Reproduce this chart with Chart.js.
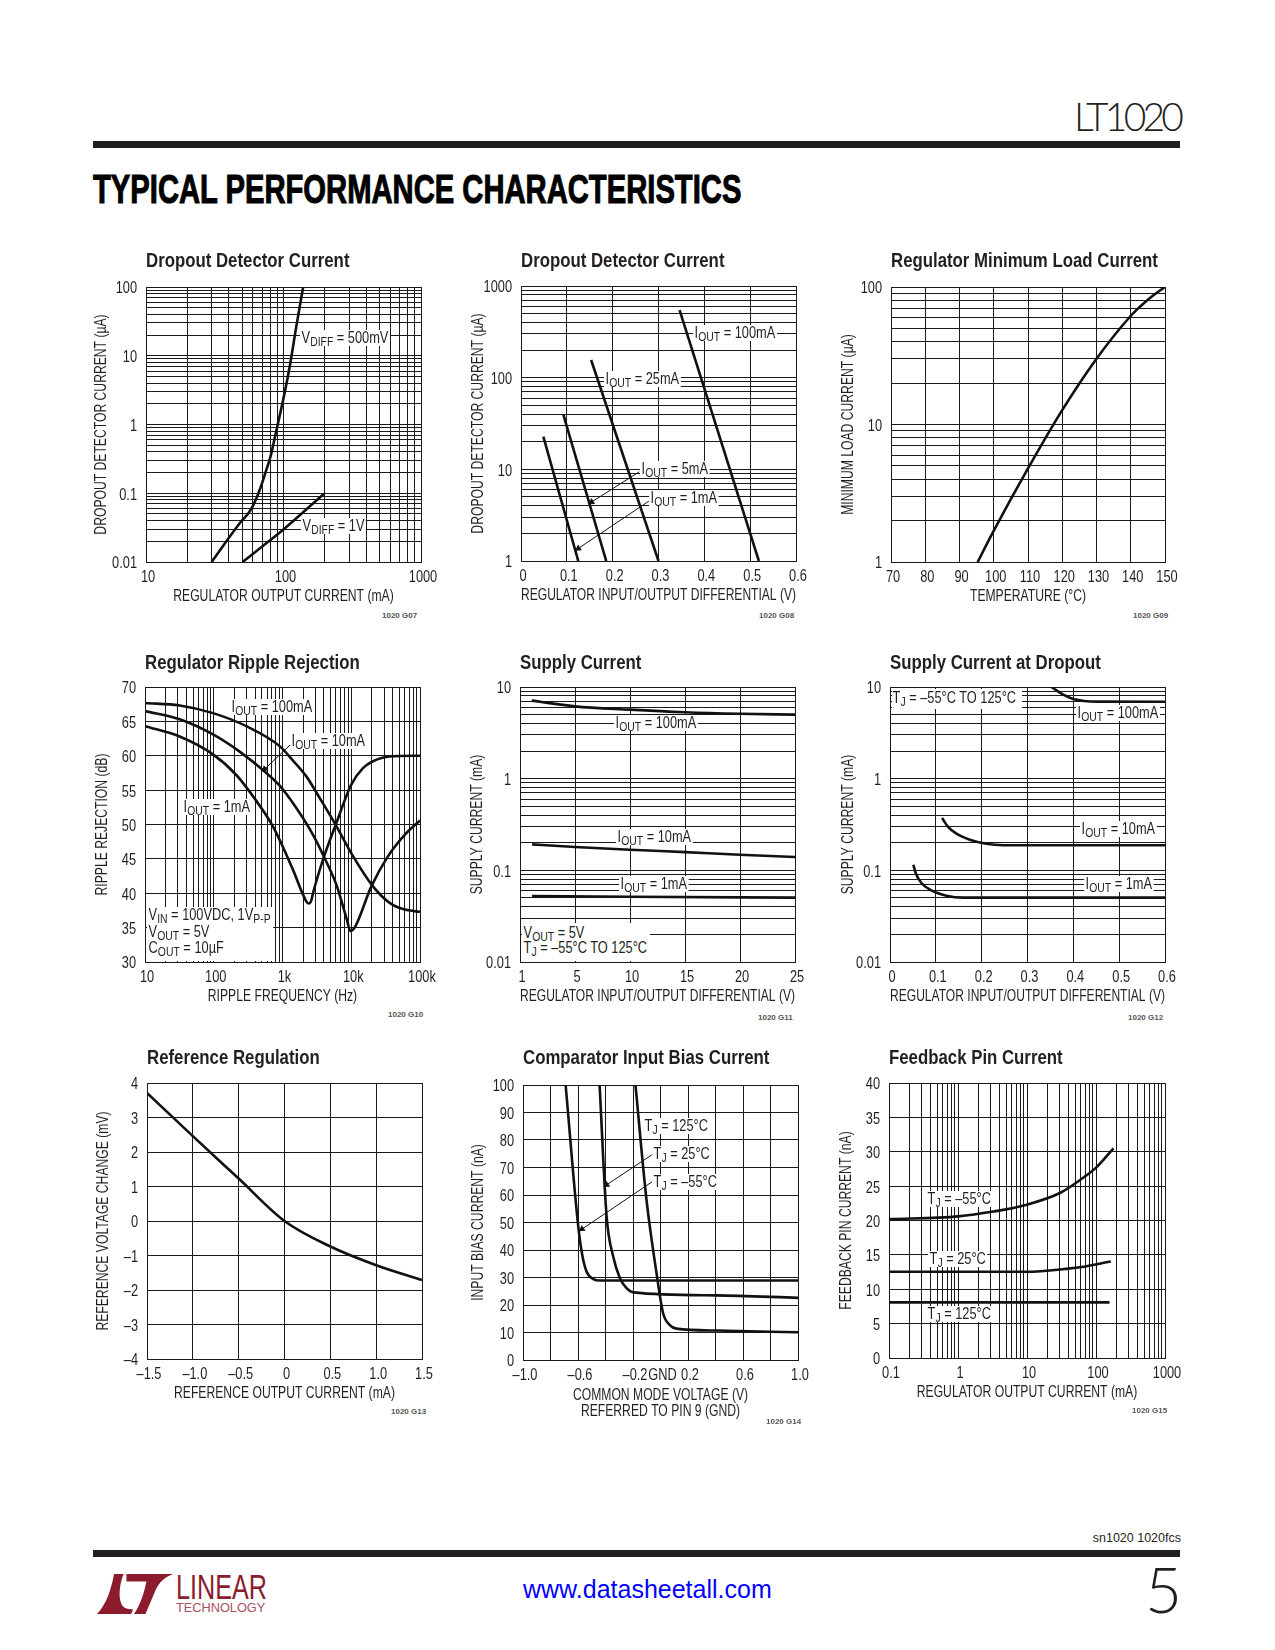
<!DOCTYPE html>
<html>
<head>
<meta charset="utf-8">
<title>LT1020 Typical Performance Characteristics</title>
<script src="https://cdn.jsdelivr.net/npm/chart.js@4/dist/chart.umd.min.js"></script>
<style>
body { margin:0; background:#fff; width:1275px; height:1650px; overflow:hidden; position:relative;
  font-family:"Liberation Sans",Arial,sans-serif; color:#231f20; }
canvas { position:absolute; }
.note { position:absolute; font-size:16px; line-height:16px; background:#fff; padding:0 2px; white-space:nowrap; transform:translateY(-50%) scaleX(.8); transform-origin:left center; }
.note.clear { background:none; }
.note sub { font-size:13px; line-height:0; vertical-align:-3px; }
.box { position:absolute; background:#fff; }
.code { position:absolute; font:bold 8px "Liberation Sans",Arial,sans-serif; color:#555; white-space:nowrap; transform:translateY(-50%); }
.rule { position:absolute; left:93px; width:1087px; height:7px; background:#231f20; }
.abs { position:absolute; white-space:nowrap; }
</style>
</head>
<body>
<div class="abs" style="left:1074px;top:93px;font:300 39px Lato,'Liberation Sans',sans-serif;letter-spacing:-3.8px;">LT1020</div>
<div class="rule" style="top:141px"></div>
<div class="abs" style="left:93px;top:167px;font:bold 40px 'Liberation Sans',sans-serif;color:#000;-webkit-text-stroke:1px #000;transform:scaleX(.73);transform-origin:left;">TYPICAL PERFORMANCE CHARACTERISTICS</div>

<div class="abs" style="right:94px;top:1531px;font:12.5px 'Liberation Sans',sans-serif;">sn1020 1020fcs</div>
<div class="rule" style="top:1550px"></div>
<svg class="abs" style="left:96px;top:1574px" width="78" height="40" viewBox="0 0 80 42">
  <path fill="#8c1c2d" d="M18 0 L28 0 C24 10 22 24 26 32 C28 36 32 37 38 37 L36 42 L0 42 C10 32 15 16 18 0 Z"/>
  <path fill="#8c1c2d" d="M31 0 L80 0 C72 3 66 8 62 16 L51 42 L39 42 C46 32 50 18 52 8 L31 8 Z"/>
</svg>
<div class="abs" style="left:176px;top:1567px;font:35px 'Liberation Sans',sans-serif;color:#8c1c2d;transform:scaleX(.72);transform-origin:left;">LINEAR</div>
<div class="abs" style="left:176px;top:1600px;font:13px 'Liberation Sans',sans-serif;color:#a8505f;transform:scaleX(.98);transform-origin:left;">TECHNOLOGY</div>
<div class="abs" style="left:523px;top:1575px;font:25px 'Liberation Sans',Arial,sans-serif;color:#0000ff;">www.datasheetall.com</div>
<div class="abs" style="right:93px;top:1550px;font:300 64px Lato,'Liberation Sans',sans-serif;">5</div>

<script>
// -- data --
// G07 dropout detector current vs output current
var g07X500 = [30, 48.2, 56.9, 63.7, 69.2, 74.4, 80.5, 89, 99.5, 111, 124, 139];
var g07Y500 = [0.01, 0.037, 0.0546, 0.0853, 0.133, 0.208, 0.344, 0.84, 2.3, 7.0, 26.8, 100];
var g07X1V = [50.4, 75.3, 99.5, 197];
var g07Y1V = [0.01, 0.0189, 0.0295, 0.0986];
var g07XTicks = [10, 100, 1000];
var g07XLabels = ['10', '100', '1000'];
var g07YTicks = [0.01, 0.1, 1, 10, 100];
var g07YLabels = ['0.01', '0.1', '1', '10', '100'];

// G08 dropout detector current vs differential
var g08X1 = [0.0488, 0.125];
var g08Y1 = [22.7, 1];
var g08X5 = [0.0925, 0.186];
var g08Y5 = [39.2, 1];
var g08X25 = [0.153, 0.300];
var g08Y25 = [156, 1];
var g08X100 = [0.346, 0.519];
var g08Y100 = [547, 1];
var g08Arrow5X = [0.258, 0.154];
var g08Arrow5Y = [9.4, 4.4];
var g08Arrow1X = [0.279, 0.125];
var g08Arrow1Y = [4.5, 1.37];
var g08XTicks = [0, 0.1, 0.2, 0.3, 0.4, 0.5, 0.6];
var g08XLabels = ['0', '0.1', '0.2', '0.3', '0.4', '0.5', '0.6'];
var g08YTicks = [1, 10, 100, 1000];
var g08YLabels = ['1', '10', '100', '1000'];

// G09 minimum load current
var g09X = [95.3, 99.9, 109.8, 119.8, 129.8, 139.7, 142.6, 145, 147.5, 150];
var g09Y = [1, 1.67, 4.69, 12.5, 29.6, 60.5, 71.5, 80.9, 90.5, 100];
var g09XTicks = [70, 80, 90, 100, 110, 120, 130, 140, 150];
var g09XLabels = ['70', '80', '90', '100', '110', '120', '130', '140', '150'];
var g09YTicks = [1, 10, 100];
var g09YLabels = ['1', '10', '100'];

// G10 ripple rejection
var g10X100 = [10, 31.9, 97.5, 298, 910, 1422, 2223, 3475, 5741, 10600, 20700, 36200, 56600, 100000];
var g10Y100 = [67.67, 67.3, 66.2, 64.3, 61.4, 59.3, 57, 53.85, 50.2, 45.4, 41, 38.6, 37.7, 37.3];
var g10X10 = [10, 31.9, 97.5, 238, 551, 910, 1589, 2780, 4102, 6067, 7590, 8770, 9700, 11200, 19600, 34300, 59900, 100000];
var g10Y10 = [66.5, 65.3, 63.1, 60.6, 57.7, 55.65, 52.4, 48.5, 45.1, 41.25, 38.1, 35.9, 34.5, 35, 41, 45.4, 48.5, 50.6];
var g10X1 = [10, 31.9, 97.5, 213, 372, 728, 1422, 1987, 2223, 2427, 2624, 2780, 3882, 6067, 10000, 14800, 20700, 36200, 100000];
var g10Y1 = [64.3, 62.8, 60.2, 57.2, 54.1, 49.7, 43.4, 39.8, 38.8, 38.5, 38.97, 40.04, 44.9, 50.2, 55.8, 58.2, 59.2, 59.9, 60];
var g10ArrowX = [1300, 551];
var g10ArrowY = [61.6, 58.07];
var g10XTicks = [10, 100, 1000, 10000, 100000];
var g10XLabels = ['10', '100', '1k', '10k', '100k'];
var g10YTicks = [30, 35, 40, 45, 50, 55, 60, 65, 70];
var g10YLabels = ['30', '35', '40', '45', '50', '55', '60', '65', '70'];

// G11 supply current
var g11X100 = [1.06, 4.98, 9.98, 15, 20, 25];
var g11Y100 = [7.1, 6.15, 5.66, 5.3, 5.1, 4.99];
var g11X10 = [1.1, 5, 10, 15, 20, 25];
var g11Y10 = [0.192, 0.18, 0.168, 0.158, 0.148, 0.14];
var g11X1 = [1.1, 10, 25];
var g11Y1 = [0.0525, 0.0515, 0.0504];
var g11XTicks = [0, 5, 10, 15, 20, 25];
var g11XLabels = ['1', '5', '10', '15', '20', '25'];
var g11YTicks = [0.01, 0.1, 1, 10];
var g11YLabels = ['0.01', '0.1', '1', '10'];

// G12 supply current at dropout
var g12X100 = [0.352, 0.378, 0.4, 0.451, 0.6];
var g12Y100 = [10, 8.25, 7.4, 6.92, 6.9];
var g12X10 = [0.1136, 0.1267, 0.1449, 0.174, 0.21, 0.247, 0.6];
var g12Y10 = [0.373, 0.2975, 0.251, 0.216, 0.195, 0.188, 0.188];
var g12X1 = [0.051, 0.056, 0.0685, 0.0903, 0.123, 0.16, 0.6];
var g12Y1 = [0.115, 0.0936, 0.0728, 0.0605, 0.0529, 0.0504, 0.0504];
var g12XTicks = [0, 0.1, 0.2, 0.3, 0.4, 0.5, 0.6];
var g12XLabels = ['0', '0.1', '0.2', '0.3', '0.4', '0.5', '0.6'];
var g12YTicks = [0.01, 0.1, 1, 10];
var g12YLabels = ['0.01', '0.1', '1', '10'];

// G13 reference regulation
var g13X = [-1.5, -1, -0.5, 0, 0.5, 1, 1.5];
var g13Y = [3.71, 2.46, 1.23, 0, -0.74, -1.28, -1.71];
var g13XTicks = [-1.5, -1, -0.5, 0, 0.5, 1, 1.5];
var g13XLabels = ['–1.5', '–1.0', '–0.5', '0', '0.5', '1.0', '1.5'];
var g13YTicks = [-4, -3, -2, -1, 0, 1, 2, 3, 4];
var g13YLabels = ['–4', '–3', '–2', '–1', '0', '1', '2', '3', '4'];

// G14 comparator input bias current
var g14XM55 = [-0.69, -0.598, -0.567, -0.538, -0.489, -0.44, 1];
var g14YM55 = [100, 48.5, 37.6, 32.2, 29.4, 28.9, 28.9];
var g14X25 = [-0.443, -0.392, -0.344, -0.295, -0.247, -0.199, 0.407, 1];
var g14Y25 = [100, 52.2, 37.6, 29.7, 26.1, 24.6, 23.5, 22.6];
var g14X125 = [-0.182, -0.102, -0.029, 0.019, 0.068, 0.116, 0.407, 1];
var g14Y125 = [100, 58.3, 31.6, 17, 12.7, 11.4, 10.7, 10.07];
var g14Arrow25X = [-0.063, -0.392];
var g14Arrow25Y = [74.6, 63.7];
var g14ArrowM55X = [-0.058, -0.571];
var g14ArrowM55Y = [64.9, 47.6];
var g14XGrid = [-1, -0.8, -0.6, -0.4, -0.2, 0, 0.2, 0.4, 0.6, 0.8, 1];
var g14XTicks = [-1, -0.6, -0.2, 0, 0.2, 0.6, 1];
var g14XLabels = ['–1.0', '–0.6', '–0.2', 'GND', '0.2', '0.6', '1.0'];
var g14YTicks = [0, 10, 20, 30, 40, 50, 60, 70, 80, 90, 100];
var g14YLabels = ['0', '10', '20', '30', '40', '50', '60', '70', '80', '90', '100'];

// G15 feedback pin current
var g15XM55 = [0.1, 1, 3.24, 9.9, 30, 58.9, 103, 179];
var g15YM55 = [20.2, 20.6, 21.3, 22.3, 24, 25.9, 27.8, 30.5];
var g15X25 = [0.1, 9.9, 42, 58.9, 164];
var g15Y25 = [12.54, 12.54, 13.03, 13.2, 14.04];
var g15X125 = [0.1, 157];
var g15Y125 = [8.09, 8.09];
var g15XTicks = [0.1, 1, 10, 100, 1000];
var g15XLabels = ['0.1', '1', '10', '100', '1000'];
var g15YTicks = [0, 5, 10, 15, 20, 25, 30, 35, 40];
var g15YLabels = ['0', '5', '10', '15', '20', '25', '30', '35', '40'];

// log grid lines 1..9 for each decade
function logGrid(lo, hi) {
  var out = [];
  for (var d = lo; d < hi * 0.99; d = d * 10) {
    for (var m = 1; m < 10; m++) out.push(parseFloat((d * m).toPrecision(3)));
  }
  out.push(hi);
  return out;
}

function pts(xs, ys) {
  return xs.map(function(x, i) { return { x: x, y: ys[i] }; });
}

function curve(xs, ys) {
  return { data: pts(xs, ys), borderColor: '#111', borderWidth: 2.6, pointRadius: 0, cubicInterpolationMode: 'monotone', order: 1 };
}

// thin leader with a triangle on its last point
function arrow(xs, ys, rot) {
  return {
    data: pts(xs, ys), borderColor: '#111', borderWidth: 1, tension: 0, order: 0,
    pointRadius: [0, 4], pointStyle: 'triangle', pointRotation: [0, rot],
    pointBackgroundColor: '#111', pointBorderWidth: 0
  };
}

function scaleOpts(c, axis) {
  var isX = axis === 'x';
  var grid = isX ? c.xGrid : c.yGrid;
  var ticks = isX ? c.xTicks : c.yTicks;
  var labels = isX ? c.xLabels : c.yLabels;
  return {
    type: (isX ? c.xLog : c.yLog) ? 'logarithmic' : 'linear',
    min: grid[0],
    max: grid[grid.length - 1],
    afterBuildTicks: function(s) { s.ticks = grid.map(function(v) { return { value: v }; }); },
    afterFit: function(s) { if (isX) s.height = c.xh; else s.width = c.yw; },
    grid: { color: '#1a1a1a', lineWidth: 1, drawTicks: false },
    border: { display: true, color: '#1a1a1a', width: 1 },
    ticks: {
      autoSkip: false, maxRotation: 0, minRotation: 0,
      padding: isX ? 6 : 9,
      labelOffset: 2,
      color: '#231f20',
      font: { size: 16 },
      callback: function(v) {
        for (var i = 0; i < ticks.length; i++) {
          if (Math.abs(ticks[i] - v) <= 1e-6 * Math.max(Math.abs(v), 1e-3)) return labels[i];
        }
        return '';
      }
    },
    title: {
      display: true, text: isX ? c.xTitle : c.yTitle, color: '#231f20', padding: 0,
      font: { size: 16, lineHeight: 1 }
    }
  };
}

Chart.defaults.font.family = '"Liberation Sans",Arial,sans-serif';

// no condensed face is installed, so squeeze canvas text through fillText's maxWidth
function condense(ctx) {
  var fill = ctx.fillText;
  ctx.fillText = function(t, x, y, mw) {
    var k = ctx.font.indexOf('bold') >= 0 ? 0.84 : (t.length > 8 ? 0.76 : 0.8);
    var w = ctx.measureText(t).width * k;
    fill.call(ctx, t, x, y, mw === undefined ? w : Math.min(w, mw));
  };
}

function addNote(n) {
  var d = document.createElement('div');
  d.className = n[3] ? 'note clear' : 'note';
  d.style.left = (n[0] - 2) + 'px';
  d.style.top = n[1] + 'px';
  d.innerHTML = n[2];
  document.body.appendChild(d);
}

function addChart(c) {
  var gap = c.gap === undefined ? 14 : c.gap;
  var titleH = 24 + gap, right = 26;
  var cv = document.createElement('canvas');
  cv.width = c.yw + c.w + right;
  cv.height = titleH + c.h + c.xh;
  cv.style.left = (c.left - c.yw) + 'px';
  cv.style.top = (c.top - titleH) + 'px';
  document.body.appendChild(cv);
  condense(cv.getContext('2d'));
  new Chart(cv, {
    type: 'line',
    data: { datasets: c.sets },
    options: {
      responsive: false, animation: false, devicePixelRatio: 1,
      layout: { autoPadding: false, padding: { right: right, left: 0, top: 0, bottom: 0 } },
      plugins: {
        legend: { display: false },
        tooltip: { enabled: false },
        title: {
          display: true, text: c.title, align: 'start', fullSize: false, color: '#231f20',
          font: { size: 20, weight: 'bold', lineHeight: 1.2 }, padding: { top: 0, bottom: gap }
        }
      },
      scales: { x: scaleOpts(c, 'x'), y: scaleOpts(c, 'y') }
    }
  });
  if (c.boxes) c.boxes.forEach(function(b) {
    var d = document.createElement('div');
    d.className = 'box';
    d.style.cssText = 'left:' + b[0] + 'px;top:' + b[1] + 'px;width:' + b[2] + 'px;height:' + b[3] + 'px';
    document.body.appendChild(d);
  });
  c.notes.forEach(addNote);
  var code = document.createElement('div');
  code.className = 'code';
  code.style.left = c.code[0] + 'px';
  code.style.top = c.code[1] + 'px';
  code.textContent = c.code[2];
  document.body.appendChild(code);
}

var IOUT = 'I<sub>OUT</sub> = ';
var TJ = 'T<sub>J</sub> = ';

addChart({
  title: 'Dropout Detector Current', left: 146, top: 287, w: 275, h: 275, yw: 52, xh: 43,
  xLog: true, yLog: true, xGrid: logGrid(10, 1000), yGrid: logGrid(0.01, 100),
  xTicks: g07XTicks, xLabels: g07XLabels, yTicks: g07YTicks, yLabels: g07YLabels,
  xTitle: 'REGULATOR OUTPUT CURRENT (mA)', yTitle: 'DROPOUT DETECTOR CURRENT (µA)',
  sets: [curve(g07X500, g07Y500), curve(g07X1V, g07Y1V)],
  notes: [[302, 338, 'V<sub>DIFF</sub> = 500mV'], [303, 526, 'V<sub>DIFF</sub> = 1V']],
  code: [382, 615, '1020 G07']
});
addChart({
  title: 'Dropout Detector Current', left: 521, top: 286, w: 275, h: 275, yw: 50, xh: 43, gap: 13,
  xLog: false, yLog: true, xGrid: g08XTicks, yGrid: logGrid(1, 1000),
  xTicks: g08XTicks, xLabels: g08XLabels, yTicks: g08YTicks, yLabels: g08YLabels,
  xTitle: 'REGULATOR INPUT/OUTPUT DIFFERENTIAL (V)', yTitle: 'DROPOUT DETECTOR CURRENT (µA)',
  sets: [curve(g08X1, g08Y1), curve(g08X5, g08Y5), curve(g08X25, g08Y25), curve(g08X100, g08Y100),
    arrow(g08Arrow5X, g08Arrow5Y, 238), arrow(g08Arrow1X, g08Arrow1Y, 237)],
  notes: [[695, 333, IOUT + '100mA'], [606, 379, IOUT + '25mA'], [642, 469, IOUT + '5mA'], [651, 498, IOUT + '1mA']],
  code: [759, 615, '1020 G08']
});
addChart({
  title: 'Regulator Minimum Load Current', left: 891, top: 287, w: 274, h: 275, yw: 50, xh: 43,
  xLog: false, yLog: true, xGrid: g09XTicks, yGrid: logGrid(1, 100),
  xTicks: g09XTicks, xLabels: g09XLabels, yTicks: g09YTicks, yLabels: g09YLabels,
  xTitle: 'TEMPERATURE (°C)', yTitle: 'MINIMUM LOAD CURRENT (µA)',
  sets: [curve(g09X, g09Y)],
  notes: [],
  code: [1133, 615, '1020 G09']
});
addChart({
  title: 'Regulator Ripple Rejection', left: 145, top: 687, w: 275, h: 275, yw: 50, xh: 43, gap: 12,
  xLog: true, yLog: false, xGrid: logGrid(10, 100000), yGrid: g10YTicks,
  xTicks: g10XTicks, xLabels: g10XLabels, yTicks: g10YTicks, yLabels: g10YLabels,
  xTitle: 'RIPPLE FREQUENCY (Hz)', yTitle: 'RIPPLE REJECTION (dB)',
  sets: [curve(g10X100, g10Y100), curve(g10X10, g10Y10), curve(g10X1, g10Y1), arrow(g10ArrowX, g10ArrowY, 226)],
  boxes: [[147, 907, 126, 54]],
  notes: [[232, 707, IOUT + '100mA'], [292, 741, IOUT + '10mA'], [184, 807, IOUT + '1mA'],
    [149, 915, 'V<sub>IN</sub> = 100VDC, 1V<sub>P-P</sub>', 1], [149, 932, 'V<sub>OUT</sub> = 5V', 1], [149, 948, 'C<sub>OUT</sub> = 10µF', 1]],
  code: [388, 1014, '1020 G10']
});
addChart({
  title: 'Supply Current', left: 520, top: 687, w: 275, h: 275, yw: 50, xh: 43, gap: 12,
  xLog: false, yLog: true, xGrid: g11XTicks, yGrid: logGrid(0.01, 10),
  xTicks: g11XTicks, xLabels: g11XLabels, yTicks: g11YTicks, yLabels: g11YLabels,
  xTitle: 'REGULATOR INPUT/OUTPUT DIFFERENTIAL (V)', yTitle: 'SUPPLY CURRENT (mA)',
  sets: [curve(g11X100, g11Y100), curve(g11X10, g11Y10), curve(g11X1, g11Y1)],
  boxes: [[522, 923, 128, 38]],
  notes: [[616, 723, IOUT + '100mA'], [618, 837, IOUT + '10mA'], [621, 884, IOUT + '1mA'],
    [524, 933, 'V<sub>OUT</sub> = 5V', 1], [524, 948, TJ + '–55°C TO 125°C', 1]],
  code: [758, 1017, '1020 G11']
});
addChart({
  title: 'Supply Current at Dropout', left: 890, top: 687, w: 275, h: 275, yw: 49, xh: 43, gap: 12,
  xLog: false, yLog: true, xGrid: g12XTicks, yGrid: logGrid(0.01, 10),
  xTicks: g12XTicks, xLabels: g12XLabels, yTicks: g12YTicks, yLabels: g12YLabels,
  xTitle: 'REGULATOR INPUT/OUTPUT DIFFERENTIAL (V)', yTitle: 'SUPPLY CURRENT (mA)',
  sets: [curve(g12X100, g12Y100), curve(g12X10, g12Y10), curve(g12X1, g12Y1)],
  boxes: [[892, 689, 130, 20]],
  notes: [[893, 698, TJ + '–55°C TO 125°C', 1], [1078, 713, IOUT + '100mA'], [1082, 829, IOUT + '10mA'], [1086, 884, IOUT + '1mA']],
  code: [1128, 1017, '1020 G12']
});
addChart({
  title: 'Reference Regulation', left: 147, top: 1083, w: 275, h: 276, yw: 51, xh: 43, gap: 13,
  xLog: false, yLog: false, xGrid: g13XTicks, yGrid: g13YTicks,
  xTicks: g13XTicks, xLabels: g13XLabels, yTicks: g13YTicks, yLabels: g13YLabels,
  xTitle: 'REFERENCE OUTPUT CURRENT (mA)', yTitle: 'REFERENCE VOLTAGE CHANGE (mV)',
  sets: [curve(g13X, g13Y)],
  notes: [],
  code: [391, 1411, '1020 G13']
});
addChart({
  title: 'Comparator Input Bias Current', left: 523, top: 1085, w: 275, h: 275, yw: 52, xh: 60, gap: 15,
  xLog: false, yLog: false, xGrid: g14XGrid, yGrid: g14YTicks,
  xTicks: g14XTicks, xLabels: g14XLabels, yTicks: g14YTicks, yLabels: g14YLabels,
  xTitle: ['COMMON MODE VOLTAGE (V)', 'REFERRED TO PIN 9 (GND)'], yTitle: 'INPUT BIAS CURRENT (nA)',
  sets: [curve(g14XM55, g14YM55), curve(g14X25, g14Y25), curve(g14X125, g14Y125),
    arrow(g14Arrow25X, g14Arrow25Y, 237), arrow(g14ArrowM55X, g14ArrowM55Y, 236)],
  notes: [[645, 1126, TJ + '125°C'], [654, 1154, TJ + '25°C'], [654, 1182, TJ + '–55°C']],
  code: [766, 1421, '1020 G14']
});
addChart({
  title: 'Feedback Pin Current', left: 889, top: 1083, w: 276, h: 275, yw: 50, xh: 43, gap: 13,
  xLog: true, yLog: false, xGrid: logGrid(0.1, 1000), yGrid: g15YTicks,
  xTicks: g15XTicks, xLabels: g15XLabels, yTicks: g15YTicks, yLabels: g15YLabels,
  xTitle: 'REGULATOR OUTPUT CURRENT (mA)', yTitle: 'FEEDBACK PIN CURRENT (nA)',
  sets: [curve(g15XM55, g15YM55), curve(g15X25, g15Y25), curve(g15X125, g15Y125)],
  notes: [[928, 1199, TJ + '–55°C'], [930, 1259, TJ + '25°C'], [928, 1314, TJ + '125°C']],
  code: [1132, 1410, '1020 G15']
});
</script>
</body>
</html>
